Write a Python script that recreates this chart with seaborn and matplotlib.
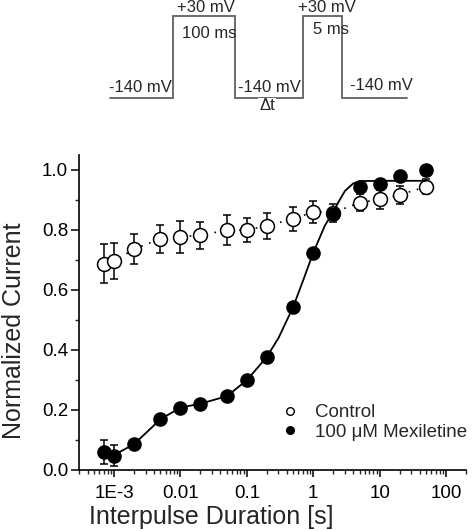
import numpy as np
import pandas as pd
import matplotlib
matplotlib.use("Agg")
import matplotlib.pyplot as plt
import seaborn as sns
from matplotlib.lines import Line2D
from matplotlib.ticker import LogLocator, FixedLocator, MultipleLocator, NullFormatter

# ---------------- data ----------------
interval_s = [0.0007, 0.001, 0.002, 0.005, 0.01, 0.02, 0.05, 0.1, 0.2, 0.5, 1, 2, 5, 10, 20, 50]
control = [0.687, 0.697, 0.736, 0.771, 0.777, 0.783, 0.799, 0.800, 0.814, 0.837, 0.860, 0.858, 0.891, 0.902, 0.917, 0.944]
control_err = [0.065, 0.060, 0.050, 0.047, 0.052, 0.045, 0.050, 0.040, 0.043, 0.040, 0.036, 0.030, 0.028, 0.033, 0.029, 0.025]
mexiletine = [0.059, 0.047, 0.086, 0.169, 0.208, 0.221, 0.246, 0.299, 0.377, 0.544, 0.724, 0.852, 0.943, 0.952, 0.980, 1.000]
mexiletine_err = [0.040, 0.035, 0.010, 0.010, 0.010, 0.010, 0.010, 0.010, 0.010, 0.010, 0.010, 0.010, 0.010, 0.010, 0.010, 0.010]

fit_x = [0.0007, 0.001, 0.002, 0.005, 0.01, 0.02, 0.05, 0.1, 0.2, 0.3, 0.5, 0.7, 1, 1.5, 2, 2.5, 3, 4, 5, 10, 50]
fit_y = [0.055, 0.050, 0.086, 0.169, 0.208, 0.221, 0.246, 0.299, 0.377, 0.440, 0.544, 0.630, 0.724, 0.815, 0.860, 0.900, 0.930, 0.955, 0.963, 0.964, 0.964]

x_ticks = [0.001, 0.01, 0.1, 1, 10, 100]
x_ticklabels = ["1E-3", "0.01", "0.1", "1", "10", "100"]
y_ticks = [0.0, 0.2, 0.4, 0.6, 0.8, 1.0]
y_ticklabels = ["0.0", "0.2", "0.4", "0.6", "0.8", "1.0"]
legend_labels = ["Control", "100 \u03bcM Mexiletine"]

df = pd.DataFrame({"t": interval_s, "control": control, "control_err": control_err,
                   "mex": mexiletine, "mex_err": mexiletine_err})
fit_df = pd.DataFrame({"t": fit_x, "y": fit_y})

# ---------------- style ----------------
sns.set_style("ticks")
plt.rcParams["font.family"] = ["Liberation Sans", "DejaVu Sans"]

W, H = 475, 531
fig = plt.figure(figsize=(W / 100, H / 100), dpi=100)

x0, x1 = 79.3, 466.0
y0, y1 = 470.0, 155.0
ax = fig.add_axes([x0 / W, 1 - y0 / H, (x1 - x0) / W, (y0 - y1) / H])

ax.set_xscale("log")
ax.set_xlim(3e-4, 200)
ax.set_ylim(0, 1.05)

# control error bars, dotted connector and open markers
ax.errorbar(df["t"], df["control"], yerr=df["control_err"], fmt="none",
            ecolor="black", elinewidth=1.1, capsize=3.2, capthick=1.1, zorder=2)
sns.lineplot(data=df, x="t", y="control", ax=ax, color="black", lw=1.2,
             linestyle=(0, (1, 4)), zorder=3, legend=False)
ax.plot(df["t"], df["control"], linestyle="none", marker="o", markersize=10,
        markerfacecolor="white", markeredgecolor="black", markeredgewidth=1.1, zorder=4)

# mexiletine
ax.errorbar(df["t"], df["mex"], yerr=df["mex_err"], fmt="none",
            ecolor="black", elinewidth=1.1, capsize=3.2, capthick=1.1, zorder=5)
sns.lineplot(data=fit_df, x="t", y="y", ax=ax, color="black", lw=1.3, zorder=6, legend=False)
ax.plot(df["t"], df["mex"], linestyle="none", marker="o", markersize=9.5,
        markerfacecolor="black", markeredgecolor="black", markeredgewidth=1.0, zorder=7)

# axes styling
for s in ["top", "right"]:
    ax.spines[s].set_visible(False)
for s in ["left", "bottom"]:
    ax.spines[s].set_linewidth(1.2)
    ax.spines[s].set_color("black")

ax.xaxis.set_major_locator(FixedLocator(x_ticks))
ax.set_xticklabels(x_ticklabels)
ax.xaxis.set_minor_locator(LogLocator(base=10, subs=np.arange(2, 10), numticks=20))
ax.xaxis.set_minor_formatter(NullFormatter())
ax.yaxis.set_major_locator(FixedLocator(y_ticks))
ax.set_yticklabels(y_ticklabels)
ax.yaxis.set_minor_locator(MultipleLocator(0.1))

ax.tick_params(axis="both", which="major", direction="out", length=5, width=1.1,
               labelsize=13.5, colors="black")
ax.tick_params(axis="both", which="minor", direction="out", length=3, width=1.0)
ax.tick_params(axis="y", which="major", length=6, pad=2)
ax.tick_params(axis="x", which="major", pad=6)

ax.set_xlabel("Interpulse Duration [s]", fontsize=18)
ax.set_ylabel("Normalized Current", fontsize=18)
ax.xaxis.label.set_va("center")
ax.yaxis.label.set_va("center")
ax.xaxis.set_label_coords((211.5 - x0) / (x1 - x0), (y0 - 517) / (y0 - y1))
ax.yaxis.set_label_coords((14 - x0) / (x1 - x0), (y0 - 331) / (y0 - y1))

handles = [
    Line2D([], [], linestyle="none", marker="o", markersize=5.5, markerfacecolor="white",
           markeredgecolor="black", markeredgewidth=1.0),
    Line2D([], [], linestyle="none", marker="o", markersize=5.5, markerfacecolor="black",
           markeredgecolor="black"),
]
ax.legend(handles, legend_labels, loc="center left",
          bbox_to_anchor=((281 - x0) / (x1 - x0), (y0 - 422.5) / (y0 - y1)),
          frameon=False, fontsize=13.5, handlelength=0.95, handletextpad=0.85,
          labelspacing=0.15, borderpad=0, borderaxespad=0)

# ---------------- stimulation protocol schematic ----------------
pax = fig.add_axes([0, 0, 1, 1])
pax.set_xlim(0, W)
pax.set_ylim(H, 0)
pax.axis("off")
pcol = "#606060"
base, top = 97.5, 16.0
pax.plot([110, 173.3, 173.3, 235, 235, 303.3, 303.3, 342.3, 342.3, 407],
         [base, base, top, top, base, base, top, top, base, base],
         color=pcol, lw=1.3, solid_joinstyle="miter")
tfs = 12
pax.text(177, 8, "+30 mV", ha="left", va="center", fontsize=tfs)
pax.text(181.5, 33, "100 ms", ha="left", va="center", fontsize=tfs)
pax.text(298, 8, "+30 mV", ha="left", va="center", fontsize=tfs)
pax.text(313, 29, "5 ms", ha="left", va="center", fontsize=tfs)
pax.text(171.5, 88, "-140 mV", ha="right", va="center", fontsize=tfs)
pax.text(237.5, 88, "-140 mV", ha="left", va="center", fontsize=tfs)
pax.text(349.5, 86, "-140 mV", ha="left", va="center", fontsize=tfs)
pax.text(267, 106, "\u0394t", ha="center", va="center", fontsize=tfs,
         bbox=dict(facecolor="white", edgecolor="none", pad=0.5))

fig.savefig("out.png", dpi=100)
